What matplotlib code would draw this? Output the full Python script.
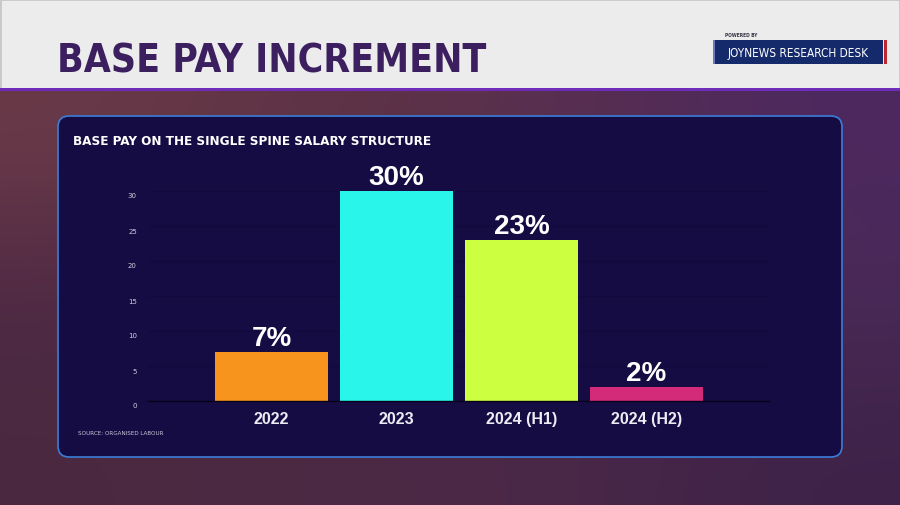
import numpy as np
import matplotlib
matplotlib.use("Agg")
import matplotlib.pyplot as plt
from matplotlib.patches import Rectangle, FancyBboxPatch
from matplotlib.colors import to_rgb
import matplotlib.transforms as mtransforms

# chart data
categories = ["2022", "2023", "2024 (H1)", "2024 (H2)"]
increments = [7, 30, 23, 2]
value_labels = ["7%", "30%", "23%", "2%"]
bar_colors = ["#f7941d", "#2af5eb", "#ccff40", "#d42a7a"]
y_ticks = [0, 5, 10, 15, 20, 25, 30]

title = "BASE PAY INCREMENT"
subtitle = "BASE PAY ON THE SINGLE SPINE SALARY STRUCTURE"
source = "SOURCE: ORGANISED LABOUR"

NARROW = ["DejaVu Sans"]
WIDE = ["Liberation Sans", "DejaVu Sans"]

W, H = 900, 506
fig = plt.figure(figsize=(W / 100, H / 100), dpi=100)

# background layer in pixel units
bg = fig.add_axes([0, 0, 1, 1], zorder=-1)
bg.set_xlim(0, W)
bg.set_ylim(H, 0)
bg.axis("off")

# blurred photo look: purple/red gradient
grad = [
    ["#6a3a48", "#5e3345", "#5a3050", "#4c2860"],
    ["#4e2845", "#452440", "#4a2848", "#4a2a58"],
    ["#4a2a40", "#4d2a45", "#4a2848", "#3e2248"],
]
img = np.array([[to_rgb(c) for c in row] for row in grad])
bg.imshow(img, extent=(0, W, H, 90), interpolation="bicubic", aspect="auto")

# header band
bg.add_patch(Rectangle((0, 0), W, 90, facecolor="#ececec", edgecolor="#c8c8c8", lw=2))
bg.add_patch(Rectangle((0, 89), W, 3, facecolor="#6e2cb8", edgecolor="none"))
bg.text(57, 72, title, fontsize=28, fontweight="bold", color="#3b1f5e",
        family=NARROW, fontstretch="condensed", va="baseline", ha="left")

# logo
bg.text(725, 37, "POWERED BY", fontsize=3.5, color="#333344", family=NARROW,
        fontstretch="condensed", va="baseline", ha="left", fontweight="bold")
bg.add_patch(Rectangle((713, 41), 170, 24, facecolor="#142a6b", edgecolor="none"))
bg.add_patch(Rectangle((713, 41), 2, 24, facecolor="#6a7ab8", edgecolor="none"))
bg.add_patch(Rectangle((884, 41), 3, 24, facecolor="#c0282d", edgecolor="none"))
bg.text(798, 53, "JOYNEWS RESEARCH DESK", fontsize=8.5, color="white",
        family=NARROW, fontstretch="condensed", va="center", ha="center")

# chart panel
bg.add_patch(FancyBboxPatch((58, 117), 784, 341,
                            boxstyle="round,pad=0,rounding_size=11",
                            facecolor="#160c44", edgecolor="#3b7dd8", lw=1.2))
bg.text(73, 145, subtitle, fontsize=9.6, fontweight="bold", color="white",
        family=NARROW, fontstretch="condensed", va="baseline", ha="left")
bg.text(78, 434, source, fontsize=4.5, color="#c8c8d8", family=NARROW,
        fontstretch="condensed", va="center", ha="left")

# bar chart
ax = fig.add_axes([148 / W, (H - 402) / H, 621 / W, 210 / H])
ax.patch.set_visible(False)
x = np.arange(len(categories))
bars = ax.bar(x, increments, width=0.9, color=bar_colors, zorder=2)
ax.set_xlim(-0.99, 3.98)
ax.set_ylim(0, 30)

for rect, lab in zip(bars, value_labels):
    ax.annotate(lab, (rect.get_x() + rect.get_width() / 2, rect.get_height()),
                xytext=(0, 1), textcoords="offset points", ha="center", va="bottom",
                fontsize=20, fontweight="bold", color="white", family=WIDE,
                annotation_clip=False)

ax.set_xticks(x)
ax.set_xticklabels(categories, fontsize=11.5, fontweight="bold", color="#ececf4",
                   family=WIDE)
ax.set_yticks(y_ticks)
ax.set_yticklabels([str(t) for t in y_ticks], fontsize=5, color="#d0d0e0", family=NARROW)
ax.tick_params(axis="both", length=0)
ax.tick_params(axis="y", pad=8)
ax.tick_params(axis="x", pad=7)

offset = mtransforms.ScaledTranslation(0, -4 / 100, fig.dpi_scale_trans)
for lbl in ax.get_yticklabels():
    lbl.set_transform(lbl.get_transform() + offset)

ax.grid(axis="y", color="#120a3c", lw=0.8, zorder=0)
for side in ["top", "right", "left"]:
    ax.spines[side].set_visible(False)
ax.spines["bottom"].set_color("#070318")
ax.spines["bottom"].set_linewidth(1)

fig.savefig("out.png", dpi=100)
